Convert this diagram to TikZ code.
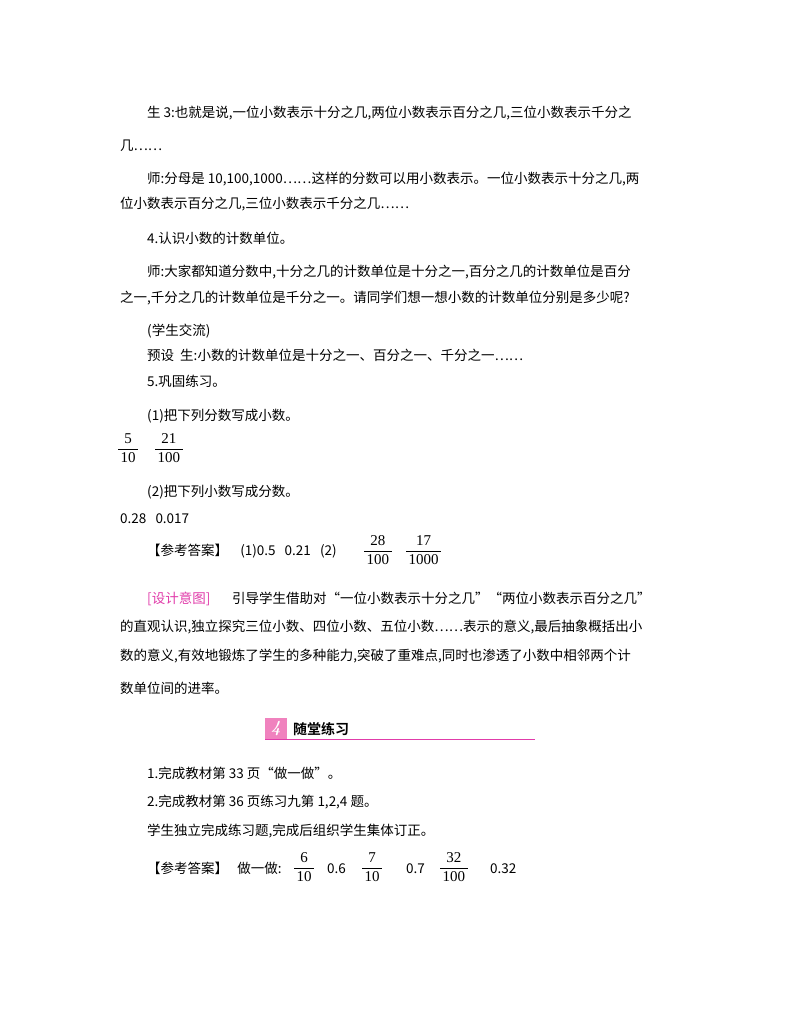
\documentclass[tikz,border=0pt]{standalone}
\usepackage{fontspec}
\newfontfamily\cjk{Noto Sans CJK SC}
\newfontfamily\cjkb{Noto Sans CJK SC Bold}
\newfontfamily\numf{Liberation Serif}
\definecolor{mag}{RGB}{225,60,170}
\definecolor{pinkbg}{RGB}{240,130,190}
\tikzset{ln/.style={anchor=base west,inner sep=0pt,font=\cjk\fontsize{13.5}{16}\selectfont},
fr/.style={anchor=west,inner sep=0pt,font=\numf\fontsize{15}{17}\selectfont}}
\newcommand{\fr}[2]{\renewcommand{\arraystretch}{1.1}\begin{tabular}{@{\,}c@{\,}}#1\\\hline #2\end{tabular}}
\begin{document}
\begin{tikzpicture}[x=1pt,y=-1pt]
\useasboundingbox (0,0) rectangle (800,1028);
\fill[white] (0,0) rectangle (800,1028);
\node[ln] (l1) at (147,117) {生 3:也就是说,一位小数表示十分之几,两位小数表示百分之几,三位小数表示千分之};
\node[ln] (l2) at (120,150) {几……};
\node[ln] (l3) at (147,183) {师:分母是 10,100,1000……这样的分数可以用小数表示。一位小数表示十分之几,两};
\node[ln] (l4) at (120,208) {位小数表示百分之几,三位小数表示千分之几……};
\node[ln] (l5) at (147,243) {4.认识小数的计数单位。};
\node[ln] (l6) at (147,276) {师:大家都知道分数中,十分之几的计数单位是十分之一,百分之几的计数单位是百分};
\node[ln] (l7) at (120,302) {之一,千分之几的计数单位是千分之一。请同学们想一想小数的计数单位分别是多少呢?};
\node[ln] (l8) at (147,335) {(学生交流)};
\node[ln] (l9) at (147,360) {预设\ \ 生:小数的计数单位是十分之一、百分之一、千分之一……};
\node[ln] (l10) at (147,386) {5.巩固练习。};
\node[ln] (l11) at (147,420) {(1)把下列分数写成小数。};
\node[fr] (f1) at (118,449) {\fr{5}{10}};
\node[fr] (f2) at (155,449) {\fr{21}{100}};
\node[ln] (l12) at (147,496) {(2)把下列小数写成分数。};
\node[ln] (l13) at (120,523) {0.28\ \ \ 0.017};
\node[ln] (l14) at (147,555) {【参考答案】\ \ \ \ (1)0.5\ \ \ 0.21\ \ \ (2)};
\node[fr] (f3) at (364,551) {\fr{28}{100}};
\node[fr] (f4) at (406,551) {\fr{17}{1000}};
\node[ln,text=mag] (d0) at (147,603) {[设计意图]};
\node[ln] (d1) at (232,603) {引导学生借助对“一位小数表示十分之几”“两位小数表示百分之几”};
\node[ln] (d2) at (120,631) {的直观认识,独立探究三位小数、四位小数、五位小数……表示的意义,最后抽象概括出小};
\node[ln] (d3) at (120,660) {数的意义,有效地锻炼了学生的多种能力,突破了重难点,同时也渗透了小数中相邻两个计};
\node[ln] (d4) at (120,693) {数单位间的进率。};
\fill[pinkbg] (265,718) rectangle (287,739);
\node[inner sep=0pt,font=\bfseries\itshape\fontsize{17}{17}\selectfont,text=white] (b4) at (276,728.5) {4};
\node[ln,font=\cjkb\fontsize{14}{16}\selectfont] (h) at (293,734) {随堂练习};
\draw[mag,line width=0.6pt] (265,739) -- (535,739);
\node[ln] (p1) at (147,778) {1.完成教材第 33 页“做一做”。};
\node[ln] (p2) at (147,806) {2.完成教材第 36 页练习九第 1,2,4 题。};
\node[ln] (p3) at (147,835) {学生独立完成练习题,完成后组织学生集体订正。};
\node[ln] (p4) at (147,873) {【参考答案】\ \ \ 做一做:};
\node[fr] (g1) at (294,868) {\fr{6}{10}};
\node[ln] (g2) at (327,873) {0.6};
\node[fr] (g3) at (362,868) {\fr{7}{10}};
\node[ln] (g4) at (406,873) {0.7};
\node[fr] (g5) at (440,868) {\fr{32}{100}};
\node[ln] (g6) at (490,873) {0.32};
\end{tikzpicture}
\end{document}
